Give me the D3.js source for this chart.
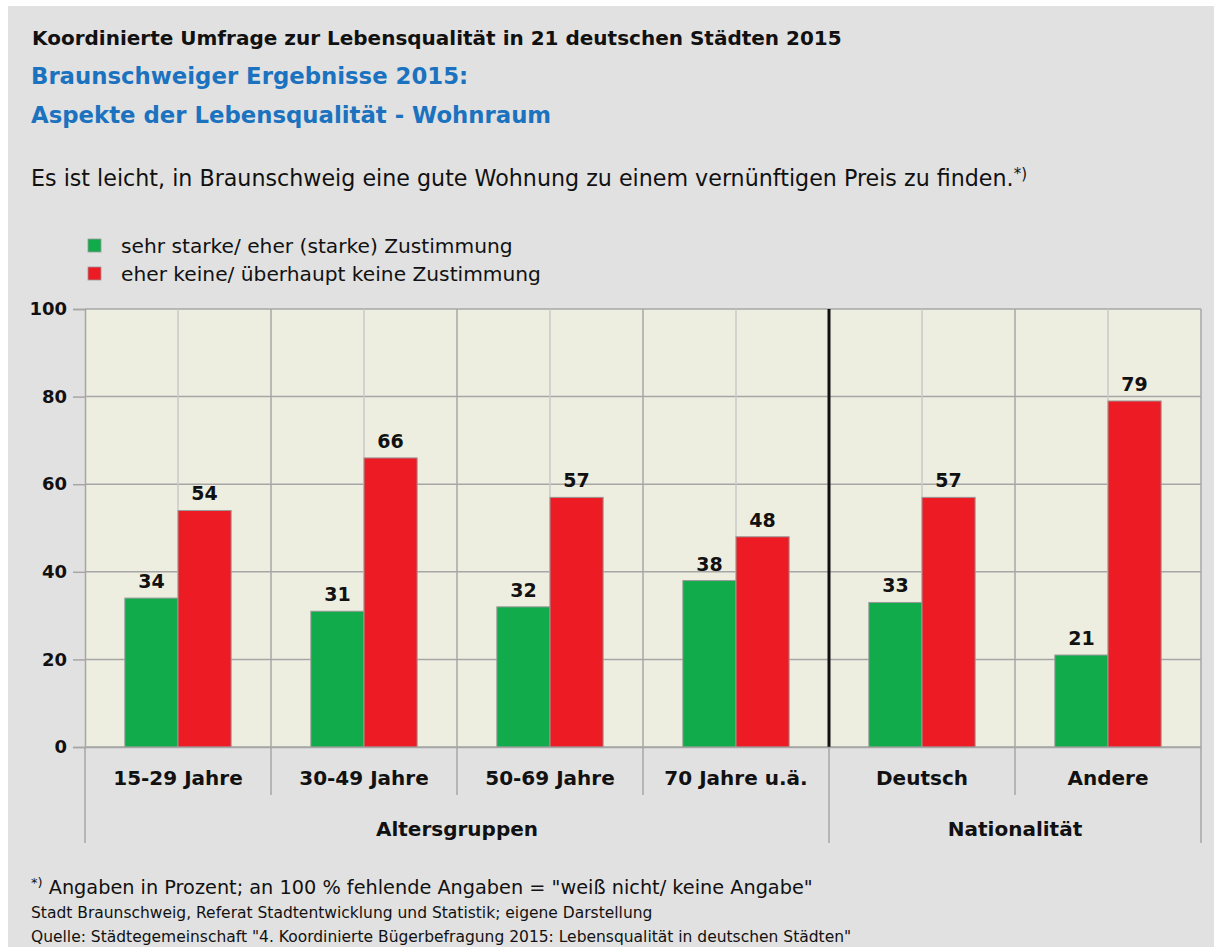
<!DOCTYPE html>
<html>
<head>
<meta charset="utf-8">
<script src="https://cdn.jsdelivr.net/npm/d3@7"></script>
<style>
  body { margin: 0; background: #fff; }
  svg { display: block; font-family: "DejaVu Sans", sans-serif; }
</style>
</head>
<body>
<div id="chartDiv"></div>
<script>
// Data
const categories = ['15-29 Jahre', '30-49 Jahre', '50-69 Jahre', '70 Jahre u.ä.', 'Deutsch', 'Andere'];
const groupOf = ['Altersgruppen', 'Altersgruppen', 'Altersgruppen', 'Altersgruppen', 'Nationalität', 'Nationalität'];
const zustimmung = [34, 31, 32, 38, 33, 21];
const keineZustimmung = [54, 66, 57, 48, 57, 79];
const seriesNames = ['sehr starke/ eher (starke) Zustimmung', 'eher keine/ überhaupt keine Zustimmung'];
const seriesColors = ['#12ab4b', '#ed1c24'];
const yTickValues = [0, 20, 40, 60, 80, 100];

// Layout
const W = 1214, H = 947;
const margin = { left: 85, right: 13, top: 309, bottom: 200 };
const plotW = W - margin.left - margin.right;
const plotH = H - margin.top - margin.bottom;

const svg = d3.select('#chartDiv').append('svg')
  .attr('width', W).attr('height', H);

svg.append('rect').attr('width', W).attr('height', H).attr('fill', '#fff');
svg.append('rect').attr('x', 8).attr('y', 6).attr('width', W - 8).attr('height', H - 6).attr('fill', '#e1e1e1');

// Titles
svg.append('text').attr('x', 32).attr('y', 45)
  .attr('font-size', 20).attr('font-weight', 700).attr('fill', '#111')
  .text('Koordinierte Umfrage zur Lebensqualität in 21 deutschen Städten 2015');
svg.append('text').attr('x', 31).attr('y', 84)
  .attr('font-size', 22.8).attr('font-weight', 700).attr('fill', '#1b72bf')
  .text('Braunschweiger Ergebnisse 2015:');
svg.append('text').attr('x', 31).attr('y', 123)
  .attr('font-size', 22.8).attr('font-weight', 700).attr('fill', '#1b72bf')
  .text('Aspekte der Lebensqualität - Wohnraum');
const sub = svg.append('text').attr('x', 31).attr('y', 186)
  .attr('font-size', 22.2).attr('fill', '#111');
sub.append('tspan').text('Es ist leicht, in Braunschweig eine gute Wohnung zu einem vernünftigen Preis zu finden.');
sub.append('tspan').attr('font-size', 15).attr('dy', -7).text('*)');

// Legend
seriesNames.forEach((name, i) => {
  const ly = 246 + i * 28;
  svg.append('rect').attr('x', 88).attr('y', ly - 7).attr('width', 13).attr('height', 13)
    .attr('fill', seriesColors[i]).attr('stroke', '#999').attr('stroke-width', 0.8);
  svg.append('text').attr('x', 121).attr('y', ly + 7)
    .attr('font-size', 20.2).attr('fill', '#111').text(name);
});

const g = svg.append('g').attr('transform', `translate(${margin.left},${margin.top})`);

// Scales
const xScale = d3.scaleBand().domain(categories).range([0, plotW]).padding(0);
const xInner = d3.scaleBand().domain([0, 1]).range([0, xScale.bandwidth()])
  .paddingInner(0).paddingOuter(0.75);
const yScale = d3.scaleLinear().domain([0, 100]).range([plotH, 0]);

// Plot background
g.append('rect').attr('width', plotW).attr('height', plotH).attr('fill', '#eeeee0');

// horizontal grid
g.selectAll('.hgrid').data(yTickValues).enter().append('line')
  .attr('x1', 0).attr('x2', plotW)
  .attr('y1', d => yScale(d)).attr('y2', d => yScale(d))
  .attr('stroke', '#a6a6a6').attr('stroke-width', 1.5);

// vertical grid at group centers (light)
g.selectAll('.vmid').data(categories).enter().append('line')
  .attr('x1', d => xScale(d) + xScale.bandwidth() / 2).attr('x2', d => xScale(d) + xScale.bandwidth() / 2)
  .attr('y1', 0).attr('y2', plotH)
  .attr('stroke', '#c9c9c9').attr('stroke-width', 1.5);

// vertical grid at group boundaries
g.selectAll('.vb').data(categories.slice(1).concat(['__end'])).enter().append('line')
  .attr('x1', (d, i) => i < categories.length - 1 ? xScale(d) : plotW)
  .attr('x2', (d, i) => i < categories.length - 1 ? xScale(d) : plotW)
  .attr('y1', 0).attr('y2', plotH)
  .attr('stroke', '#a6a6a6').attr('stroke-width', 1.5);

// Bars
const barData = [];
categories.forEach((c, i) => {
  barData.push({ cat: c, s: 0, v: zustimmung[i] });
  barData.push({ cat: c, s: 1, v: keineZustimmung[i] });
});

g.selectAll('.barClass').data(barData).enter().append('rect')
  .attr('class', 'barClass')
  .attr('x', d => xScale(d.cat) + xInner(d.s))
  .attr('y', d => yScale(d.v))
  .attr('width', xInner.bandwidth())
  .attr('height', d => plotH - yScale(d.v))
  .attr('fill', d => seriesColors[d.s])
  .attr('stroke', '#999').attr('stroke-width', 1);

// Value labels
g.selectAll('.valLabel').data(barData).enter().append('text')
  .attr('x', d => xScale(d.cat) + xInner(d.s) + xInner.bandwidth() / 2)
  .attr('y', d => yScale(d.v) - 10)
  .attr('text-anchor', 'middle').attr('font-size', 19).attr('font-weight', 700).attr('fill', '#111')
  .text(d => d.v);

// Separator between Altersgruppen and Nationalität
g.append('line')
  .attr('x1', xScale('Deutsch')).attr('x2', xScale('Deutsch'))
  .attr('y1', 0).attr('y2', plotH)
  .attr('stroke', '#111').attr('stroke-width', 3);

// Y axis
const yAxis = d3.axisLeft(yScale).tickValues(yTickValues).tickSize(12).tickPadding(6);
const yAxisG = g.append('g').call(yAxis);
yAxisG.select('.domain').attr('stroke', '#a6a6a6').attr('stroke-width', 1.5);
yAxisG.selectAll('.tick line').attr('stroke', '#a6a6a6').attr('stroke-width', 1.5);
yAxisG.selectAll('.tick text')
  .attr('font-family', '"DejaVu Sans", sans-serif').attr('font-size', 18).attr('font-weight', 700).attr('fill', '#111');

// X axis: category labels
const xAxis = d3.axisBottom(xScale).tickSize(0).tickPadding(24);
const xAxisG = g.append('g').attr('transform', `translate(0,${plotH})`).call(xAxis);
xAxisG.select('.domain').attr('stroke', '#a6a6a6').attr('stroke-width', 1.5);
xAxisG.selectAll('.tick text')
  .attr('font-family', '"DejaVu Sans", sans-serif').attr('font-size', 20).attr('font-weight', 700).attr('fill', '#111');

// category dividers below the axis
const boundaries = d3.range(categories.length + 1).map(i => i * xScale.step());
const groupEdges = [0, xScale('Deutsch'), plotW];
g.selectAll('.xdiv').data(boundaries).enter().append('line')
  .attr('x1', d => d).attr('x2', d => d)
  .attr('y1', plotH)
  .attr('y2', d => groupEdges.some(e => Math.abs(e - d) < 0.5) ? plotH + 96 : plotH + 48)
  .attr('stroke', '#a6a6a6').attr('stroke-width', 1.5);

// Group labels
const groups = Array.from(new Set(groupOf));
groups.forEach(gr => {
  const cats = categories.filter((c, i) => groupOf[i] === gr);
  const x0 = xScale(cats[0]);
  const x1 = xScale(cats[cats.length - 1]) + xScale.bandwidth();
  g.append('text').attr('x', (x0 + x1) / 2).attr('y', plotH + 89)
    .attr('text-anchor', 'middle').attr('font-size', 20).attr('font-weight', 700).attr('fill', '#111')
    .text(gr);
});

// Footnotes
const fn = svg.append('text').attr('x', 31).attr('y', 894).attr('font-size', 19.3).attr('fill', '#111');
fn.append('tspan').attr('font-size', 13).attr('dy', -7).text('*)');
fn.append('tspan').attr('dy', 7).text(' Angaben in Prozent; an 100 % fehlende Angaben = "weiß nicht/ keine Angabe"');
svg.append('text').attr('x', 31).attr('y', 918).attr('font-size', 15.5).attr('fill', '#111')
  .text('Stadt Braunschweig, Referat Stadtentwicklung und Statistik; eigene Darstellung');
svg.append('text').attr('x', 31).attr('y', 942).attr('font-size', 15.5).attr('fill', '#111')
  .text('Quelle: Städtegemeinschaft "4. Koordinierte Bügerbefragung 2015: Lebensqualität in deutschen Städten"');
</script>
</body>
</html>
